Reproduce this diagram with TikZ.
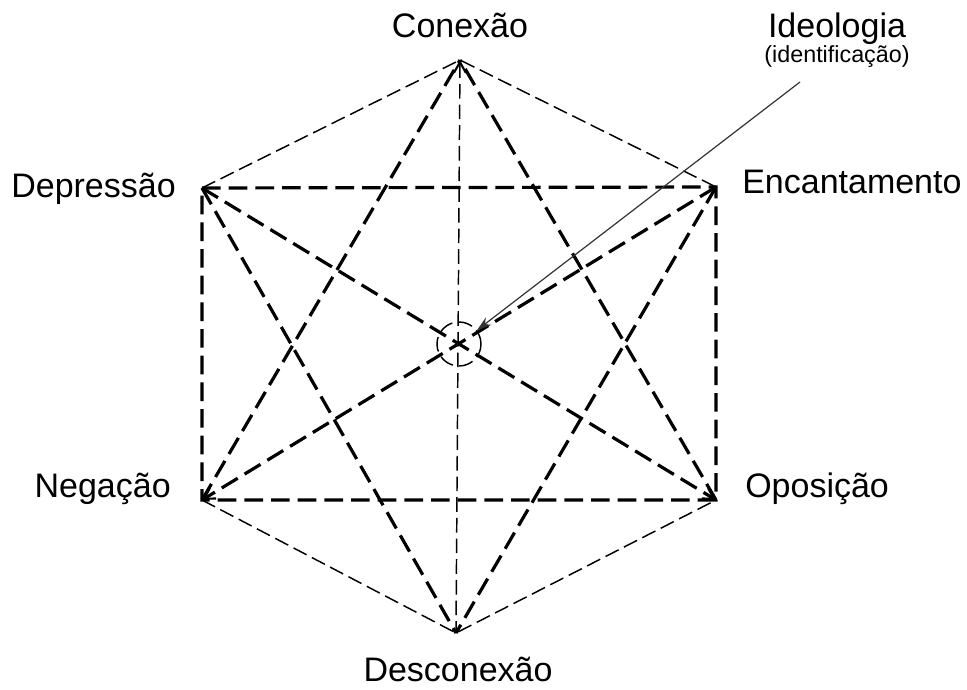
\documentclass[tikz,border=0pt]{standalone}
\usepackage{fontspec}
\setmainfont{Liberation Sans}
\usetikzlibrary{arrows.meta}

\begin{document}
\begin{tikzpicture}[x=0.75pt, y=-0.75pt,
  heavy/.style={line width=2.4pt, dash pattern=on 14pt off 6pt},
  light/.style={line width=1.1pt, dash pattern=on 11pt off 4.5pt},
  barb/.style={-{Straight Barb[length=8pt,width=9pt,line width=1.6pt]}},
  lbl/.style={inner sep=0pt, font=\fontsize{25.5}{28}\selectfont},
  sublbl/.style={inner sep=0pt, font=\fontsize{17.5}{20}\selectfont}]
  \useasboundingbox (0,0) rectangle (967,689);

  % Vertices
  \coordinate (top) at (460,60);
  \coordinate (bot) at (456,633);
  \coordinate (ul) at (202,188);
  \coordinate (ur) at (716,187);
  \coordinate (ll) at (202,500);
  \coordinate (lr) at (716,500);
  \coordinate (ctr) at (459,344);

  % Labels
  \node[lbl, anchor=base] (conexao) at (460,37) {Conexão};
  \node[lbl, anchor=base east] (depressao) at (176,197) {Depressão};
  \node[lbl, anchor=base west] (encantamento) at (742,193) {Encantamento};
  \node[lbl, anchor=base east] (negacao) at (171,497) {Negação};
  \node[lbl, anchor=base west] (oposicao) at (745,497) {Oposição};
  \node[lbl, anchor=base] (desconexao) at (458,681) {Desconexão};
  \node[lbl, anchor=base] (ideologia) at (837,37) {Ideologia};
  \node[sublbl, anchor=base] (ident) at (837,62) {(identificação)};

  % Outer edges
  \draw[light] (ul) -- (top) -- (ur);
  \draw[light] (ll) -- (bot) -- (lr);

  % Rectangle
  \draw[heavy] (ul) -- (ur) -- (lr) -- (ll) -- cycle;

  % Triangles
  \draw[heavy] (ll) -- (top);
  \draw[heavy] (lr) -- (top);
  \draw[heavy] (ul) -- (bot);
  \draw[heavy] (ur) -- (bot);

  % Diagonals
  \draw[heavy, barb] (ul) -- (lr);
  \draw[heavy, barb] (ur) -- (ll);

  % Axis
  \draw[light, barb, {Straight Barb[length=8pt,width=9pt,line width=1.6pt]}-] (top) -- (bot);

  % Ideology ring and pointer
  \node[circle, draw, light, minimum size=33pt] (ring) at (ctr) {};
  \coordinate (ptr) at (800,82);
  \draw[line width=0.9pt, black!80, -{Stealth[length=11pt,width=7pt]}] (ptr) -- (ring);
\end{tikzpicture}
\end{document}
